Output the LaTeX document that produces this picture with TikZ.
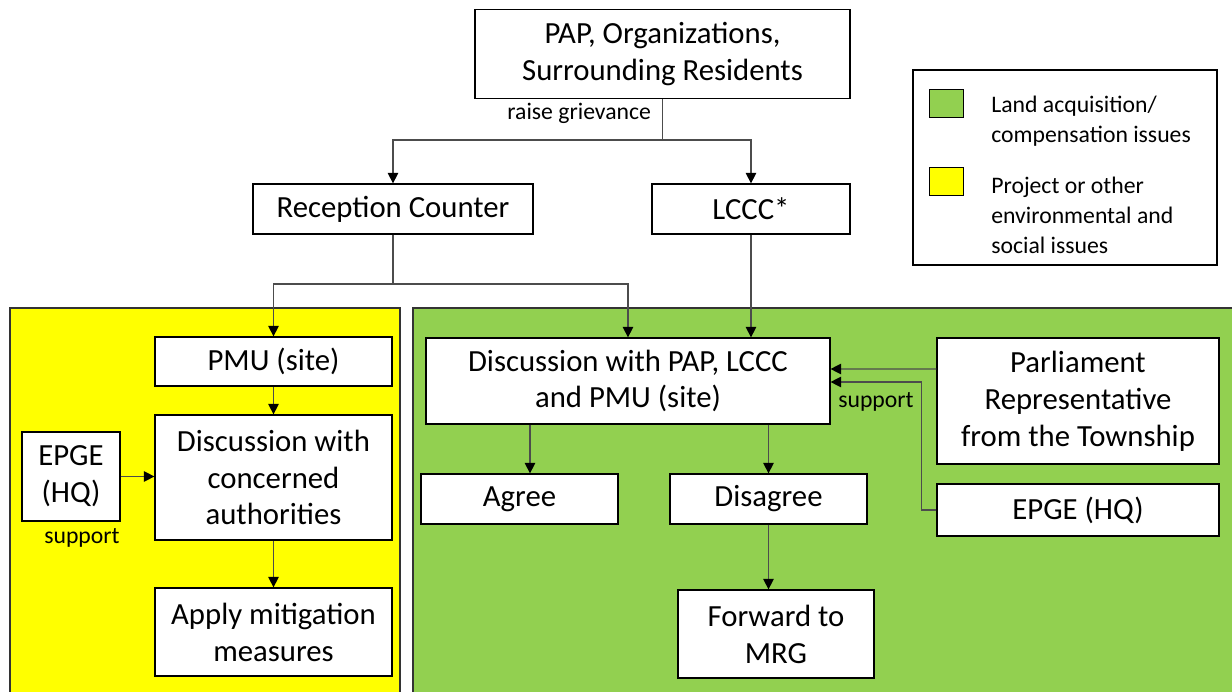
\documentclass[tikz,border=0pt]{standalone}
\usepackage{fontspec}
\setmainfont{Carlito}
\usetikzlibrary{arrows.meta,positioning}
\definecolor{landgreen}{HTML}{92D050}
\definecolor{projyellow}{HTML}{FFFF00}
\newcommand{\boxfont}{\fontsize{17.5}{21}\selectfont}
\newcommand{\lblfont}{\fontsize{13.5}{17}\selectfont}

\begin{document}
\begin{tikzpicture}[x=0.02cm, y=-0.02cm,
  box/.style={draw, fill=white, font=\boxfont, align=center, inner sep=2pt, line width=0.7pt},
  lbl/.style={font=\lblfont, align=left, inner sep=0pt},
  conn/.style={draw=black!70, line width=0.6pt},
  arr/.style={conn, -{Triangle[width=6pt,length=6pt,color=black]}}]
  \useasboundingbox (0,0) rectangle (1232,692);
  \clip (0,0) rectangle (1232,692);
  % panels
  \draw[fill=projyellow, draw=black!80, line width=0.6pt] (10,308) rectangle (400,710);
  \draw[fill=landgreen, draw=black!80, line width=0.6pt] (413,308) rectangle (1250,710);

  % top part
  \node[box, minimum width=7.5cm, minimum height=1.78cm] (pap) at (662.5,54) {PAP, Organizations,\\Surrounding Residents};
  \node[box, minimum width=5.6cm, minimum height=1cm] (rec) at (393,209) {Reception Counter};
  \node[box, minimum width=3.96cm, minimum height=1cm] (lccc) at (751,209) {LCCC*};

  % legend
  \node[draw, line width=0.8pt, minimum width=6.08cm, minimum height=3.9cm] (legend) at (1065,167.5) {};
  \node[draw, fill=landgreen, minimum width=0.68cm, minimum height=0.56cm] (keyland) at (946,103) {};
  \node[draw, fill=projyellow, minimum width=0.68cm, minimum height=0.56cm] (keyproj) at (946,181.5) {};
  \node[lbl, anchor=west] (txtland) at (991,121) {Land acquisition/\\compensation issues};
  \node[lbl, anchor=west] (txtproj) at (991,215.5) {Project or other\\environmental and\\social issues};

  % yellow side
  \node[box, minimum width=4.74cm, minimum height=0.98cm] (pmu) at (273.5,361.5) {PMU (site)};
  \node[box, minimum width=4.74cm, minimum height=2.5cm] (concern) at (273.5,477.5) {Discussion with\\concerned\\authorities};
  \node[box, minimum width=4.74cm, minimum height=1.76cm] (apply) at (273.5,632) {Apply mitigation\\measures};
  \node[box, minimum width=1.96cm, minimum height=1.78cm] (epgel) at (71,476.5) {EPGE\\(HQ)};
  \node[lbl, anchor=north, xshift=0.22cm, yshift=-0.14cm] (supl) at (epgel.south) {support};

  % green side
  \node[box, minimum width=8.08cm, minimum height=1.72cm] (talks) at (628,381) {Discussion with PAP, LCCC\\and PMU (site)};
  \node[box, minimum width=3.94cm, minimum height=1cm] (agree) at (519.5,499) {Agree};
  \node[box, minimum width=3.94cm, minimum height=1cm] (disagree) at (768.5,499) {Disagree};
  \node[box, minimum width=3.92cm, minimum height=1.76cm] (mrg) at (776,634) {Forward to\\MRG};
  \node[box, minimum width=5.64cm, minimum height=2.52cm] (parl) at (1078,401) {Parliament\\Representative\\from the Township};
  \node[box, minimum width=5.64cm, minimum height=1.04cm] (epger) at (1078,510) {EPGE (HQ)};

  % connectors
  \draw[conn] (pap.south) -- node[lbl, left=0.22cm, pos=0.35] {raise grievance} (pap.south |- 0,140) coordinate (splittop);
  \draw[arr] (splittop) -| (rec.north);
  \draw[arr] (splittop) -| (lccc.north);
  \draw[conn] (rec.south) -- (rec.south |- 0,284) coordinate (splitrec);
  \draw[arr] (splitrec) -| (pmu.north);
  \draw[arr] (splitrec) -| (talks.north);
  \draw[arr] (lccc.south) -- (lccc.south |- talks.north);

  \draw[arr] (pmu) -- (concern);
  \draw[arr] (concern) -- (apply);
  \draw[arr] (epgel.east) -- (epgel.east -| concern.west);

  \draw[arr] ([xshift=0.21cm]agree.north |- talks.south) -- ([xshift=0.21cm]agree.north);
  \draw[arr] (talks.south -| disagree.north) -- (disagree.north);
  \draw[arr] (disagree.south) -- (disagree.south |- mrg.north);
  \draw[arr] ([yshift=0.64cm]parl.west) -- ([yshift=0.24cm]talks.east);
  \draw[arr] (epger.west) -- ++(-0.3cm,0) |- node[lbl, pos=0.75, below=0.2cm] {support} ([yshift=-0.02cm]talks.east);
\end{tikzpicture}
\end{document}
